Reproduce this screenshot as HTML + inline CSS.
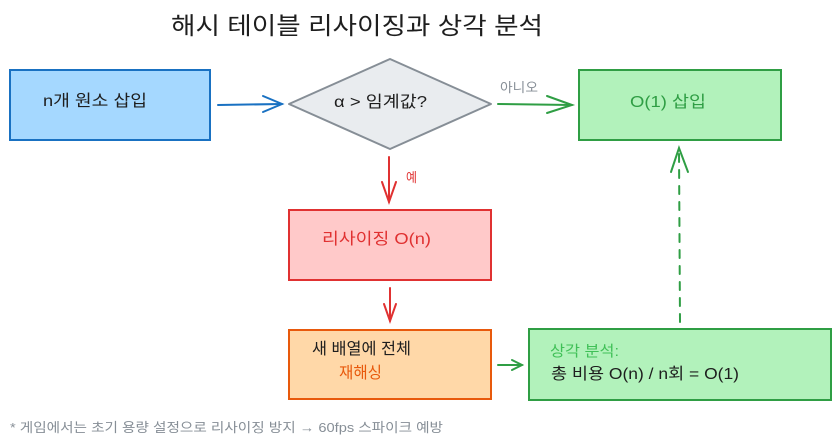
<!DOCTYPE html>
<html><head><meta charset="utf-8">
<style>
html,body{margin:0;padding:0;background:#fff;}
svg{display:block;}
text{font-family:"Liberation Sans","Noto Sans CJK KR",sans-serif;}
</style></head>
<body>
<svg width="840" height="447" viewBox="0 0 840 447" xmlns="http://www.w3.org/2000/svg">
<rect width="840" height="447" fill="#ffffff"/>
<!-- Title -->
<text x="171" y="34" font-size="24" fill="#1e1e1e" textLength="372" lengthAdjust="spacingAndGlyphs">해시 테이블 리사이징과 상각 분석</text>

<!-- Blue box -->
<rect x="10" y="70" width="200" height="70" fill="#a5d8ff" stroke="#1971c2" stroke-width="2"/>
<text x="43" y="106" font-size="16" fill="#1e1e1e" textLength="104" lengthAdjust="spacingAndGlyphs">n개 원소 삽입</text>

<!-- Blue arrow -->
<g stroke="#1971c2" stroke-width="2" fill="none" stroke-linecap="round">
<line x1="218" y1="105" x2="282" y2="104"/>
<polyline points="263,96 282,104 263,112"/>
</g>

<!-- Diamond -->
<polygon points="390,59 491,104 390,149 289,104" fill="#e9ecef" stroke="#868e96" stroke-width="2" stroke-linejoin="round"/>
<text x="334" y="107" font-size="16" fill="#1e1e1e" textLength="93" lengthAdjust="spacingAndGlyphs">α &gt; 임계값?</text>

<!-- Green arrow (아니오) -->
<g stroke="#2f9e44" stroke-width="2" fill="none" stroke-linecap="round">
<line x1="498" y1="104" x2="572" y2="105"/>
<polyline points="547,96 572,105 547,113"/>
</g>
<text x="500" y="92" font-size="13" fill="#868e96" textLength="38" lengthAdjust="spacingAndGlyphs">아니오</text>

<!-- Green box top -->
<rect x="579" y="70" width="202" height="70" fill="#b2f2bb" stroke="#2f9e44" stroke-width="2"/>
<text x="630" y="107" font-size="16" fill="#2f9e44" textLength="76" lengthAdjust="spacingAndGlyphs">O(1) 삽입</text>

<!-- Red arrow 1 (예) -->
<g stroke="#e03131" stroke-width="2" fill="none" stroke-linecap="round">
<line x1="389" y1="157" x2="389" y2="202"/>
<polyline points="382,182 389,202 396,182"/>
</g>
<text x="406" y="182" font-size="13" fill="#e03131" textLength="11" lengthAdjust="spacingAndGlyphs">예</text>

<!-- Red box -->
<rect x="289" y="210" width="202" height="70" fill="#ffc9c9" stroke="#e03131" stroke-width="2"/>
<text x="322" y="244" font-size="16" fill="#e03131" textLength="109" lengthAdjust="spacingAndGlyphs">리사이징 O(n)</text>

<!-- Red arrow 2 -->
<g stroke="#e03131" stroke-width="2" fill="none" stroke-linecap="round">
<line x1="390" y1="288" x2="390" y2="321"/>
<polyline points="384,304 390,321 396,304"/>
</g>

<!-- Orange box -->
<rect x="289" y="330" width="202" height="69" fill="#ffd8a8" stroke="#e8590c" stroke-width="2"/>
<text x="312" y="354" font-size="16" fill="#1e1e1e" textLength="99" lengthAdjust="spacingAndGlyphs">새 배열에 전체</text>
<text x="339" y="378" font-size="16" fill="#e8590c" textLength="43" lengthAdjust="spacingAndGlyphs">재해싱</text>

<!-- Small green arrow -->
<g stroke="#2f9e44" stroke-width="2" fill="none" stroke-linecap="round">
<line x1="498" y1="365" x2="522" y2="365"/>
<polyline points="512,360 522,365 512,370"/>
</g>

<!-- Green box bottom -->
<rect x="529" y="329" width="302" height="71" fill="#b2f2bb" stroke="#2f9e44" stroke-width="2"/>
<text x="550" y="356" font-size="15" fill="#40c057" textLength="69" lengthAdjust="spacingAndGlyphs">상각 분석:</text>
<text x="551" y="379" font-size="16" fill="#1e1e1e" textLength="188" lengthAdjust="spacingAndGlyphs">총 비용 O(n) / n회 = O(1)</text>

<!-- Green dashed arrow up -->
<g stroke="#2f9e44" stroke-width="2" fill="none" stroke-linecap="round">
<line x1="680" y1="322" x2="679" y2="150" stroke-dasharray="8,8"/>
<polyline points="671,172 679,148 688,172"/>
</g>

<!-- Footnote -->
<text x="10" y="432" font-size="13" fill="#868e96" textLength="433" lengthAdjust="spacingAndGlyphs">* 게임에서는 초기 용량 설정으로 리사이징 방지 → 60fps 스파이크 예방</text>
</svg>
</body></html>
